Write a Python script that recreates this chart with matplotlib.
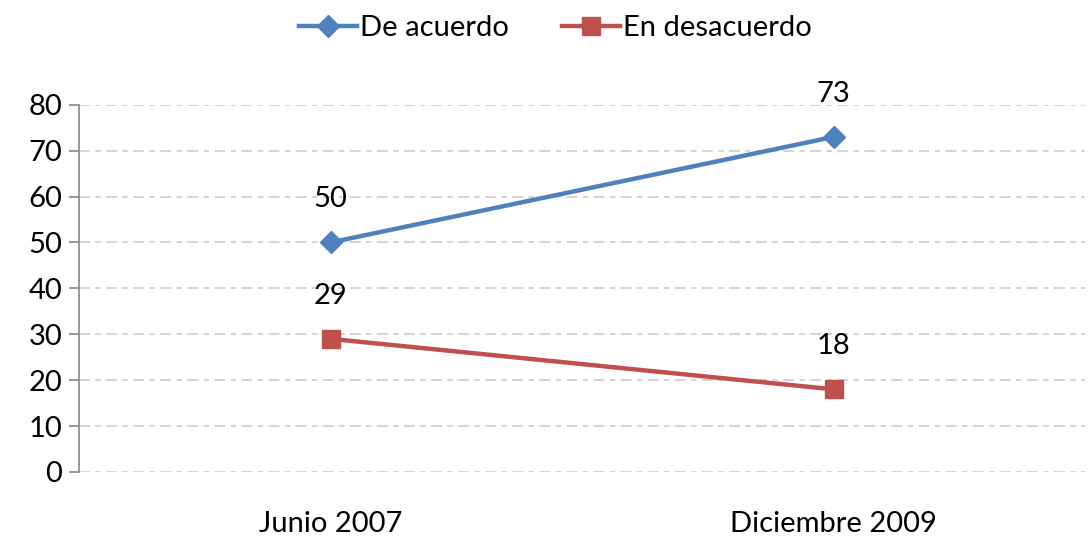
import matplotlib
matplotlib.use('Agg')
import matplotlib.pyplot as plt

plt.rcParams['font.family'] = ['Lato', 'DejaVu Sans']

categories = ['Junio 2007', 'Diciembre 2009']
de_acuerdo = [50, 73]
en_desacuerdo = [29, 18]
yticks = [0, 10, 20, 30, 40, 50, 60, 70, 80]

fig = plt.figure(figsize=(10.89, 5.4), dpi=100)
ax = fig.add_axes([0.0725, 0.126, 0.924, 0.68])

x = list(range(len(categories)))

# gridlines, dashed long-short
for y in yticks:
    ax.axhline(y, color='#d0d0d0', lw=1.3, dashes=(6, 3, 3, 3), zorder=0)

ax.plot(x, de_acuerdo, color='#4F81BD', lw=3.2, marker='D', ms=11,
        label='De acuerdo', zorder=3)
ax.plot(x, en_desacuerdo, color='#C0504D', lw=3.2, marker='s', ms=13,
        label='En desacuerdo', zorder=3)

for xi, v in zip(x, de_acuerdo):
    ax.annotate(str(v), (xi, v), xytext=(0, 31), textcoords='offset points',
                ha='center', va='center', fontsize=21)
for xi, v in zip(x, en_desacuerdo):
    ax.annotate(str(v), (xi, v), xytext=(0, 31), textcoords='offset points',
                ha='center', va='center', fontsize=21)

ax.set_xlim(-0.5, 1.5)
ax.set_ylim(0, 80)
ax.set_yticks(yticks)
ax.set_xticks(x)
ax.set_xticklabels(categories, fontsize=21)
ax.tick_params(axis='y', labelsize=21, length=7, width=1.2, color='#868686', pad=5)
ax.tick_params(axis='x', length=0, pad=28)

for s in ['top', 'right', 'bottom']:
    ax.spines[s].set_visible(False)
ax.spines['left'].set_color('#868686')
ax.spines['left'].set_linewidth(1.2)

fig.legend(loc='upper center', bbox_to_anchor=(0.51, 1.02), ncol=2, frameon=False,
           fontsize=21, handlelength=2.0, handletextpad=0.1, columnspacing=1.8)

fig.savefig('out.png', dpi=100)
